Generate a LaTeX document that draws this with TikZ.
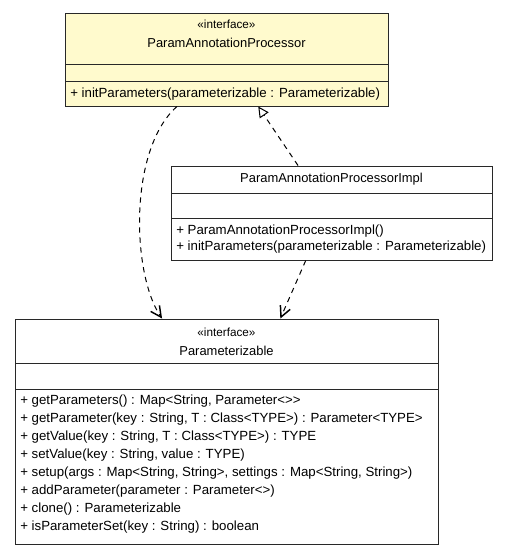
\documentclass[tikz,border=0pt]{standalone}
\usepackage{fontspec}
\setmainfont{Liberation Sans}
\usetikzlibrary{arrows.meta, calc, fit}

\definecolor{ifacefill}{RGB}{255,250,205}
\definecolor{boxline}{RGB}{40,40,40}

\tikzset{
  classbox/.style={draw=boxline, line width=0.75pt, inner sep=0pt, fill=white},
  classname/.style={inner sep=0pt, font=\fontsize{9.7}{11}\selectfont},
  stereo/.style={inner sep=0pt, font=\fontsize{8.8}{10}\selectfont},
  member/.style={anchor=west, inner sep=0pt, font=\fontsize{9.95}{11}\selectfont},
  dep/.style={draw=black, line width=0.75pt, dash pattern=on 4pt off 3.5pt, -{Straight Barb[length=8pt, width=8pt, line width=1.1pt]}},
  realize/.style={draw=black, line width=0.75pt, dash pattern=on 4pt off 3.5pt, -{Triangle[open, length=8pt, width=8pt, line width=0.75pt, fill=white]}}
}

\begin{document}
\begin{tikzpicture}[x=0.75pt,y=0.75pt,yscale=-1,xscale=1]
    \useasboundingbox (0,0) rectangle (509,547);

    %Shape: Class ParamAnnotationProcessor
    \node [classbox, fill=ifacefill, fit={(65,13) (388,106)}] (proc) {};
    \draw [boxline, line width=0.75pt] (65,64) -- (388,64) (65,81) -- (388,81) ;
    \node [stereo] (procStereo) at (226.5,24) {«interface»};
    \node [classname] (procName) at (226.5,43) {ParamAnnotationProcessor};
    \node [member] (procInit) at (70,94) {+ initParameters(parameterizable : Parameterizable)};

    %Shape: Class ParamAnnotationProcessorImpl
    \node [classbox, fit={(171,166) (492,260)}] (impl) {};
    \draw [boxline, line width=0.75pt] (171,193) -- (492,193) (171,218) -- (492,218) ;
    \node [classname] (implName) at (331.5,179) {ParamAnnotationProcessorImpl};
    \node [member] (implCtor) at (176,231) {+ ParamAnnotationProcessorImpl()};
    \node [member] (implInit) at (176,247) {+ initParameters(parameterizable : Parameterizable)};

    %Shape: Class Parameterizable
    \node [classbox, fit={(15,319) (438,544)}] (param) {};
    \draw [boxline, line width=0.75pt] (15,363) -- (438,363) (15,389) -- (438,389) ;
    \node [stereo] (paramStereo) at (226.5,332) {«interface»};
    \node [classname] (paramName) at (226.5,351) {Parameterizable};
    \node [member] (paramM1) at (20,401) {+ getParameters() : Map<String, Parameter<>{}>};
    \node [member] (paramM2) at (20,419) {+ getParameter(key : String, T : Class<TYPE>) : Parameter<TYPE>};
    \node [member] (paramM3) at (20,437.5) {+ getValue(key : String, T : Class<TYPE>) : TYPE};
    \node [member] (paramM4) at (20,455.5) {+ setValue(key : String, value : TYPE)};
    \node [member] (paramM5) at (20,473.5) {+ setup(args : Map<String, String>, settings : Map<String, String>)};
    \node [member] (paramM6) at (20,491.5) {+ addParameter(parameter : Parameter<>)};
    \node [member] (paramM7) at (20,509.5) {+ clone() : Parameterizable};
    \node [member] (paramM8) at (20,527) {+ isParameterSet(key : String) : boolean};

    % Connectors
    \draw [dep] ($(proc.south west)!0.347!(proc.south east)$) .. controls (128,150) and (132,275) .. ($(param.north west)!0.348!(param.north east)$);
    \draw [dep] ($(impl.south west)!0.42!(impl.south east)$) -- ($(param.north west)!0.627!(param.north east)$);
    \draw [realize] ($(impl.north west)!0.396!(impl.north east)$) -- ($(proc.south west)!0.598!(proc.south east)$);

\end{tikzpicture}
\end{document}
